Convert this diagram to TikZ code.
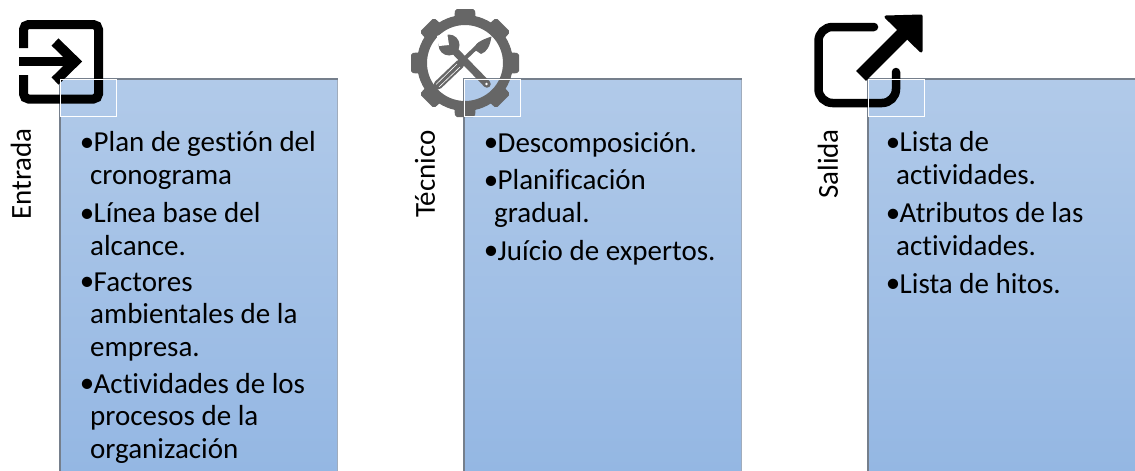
\documentclass[tikz,border=0pt]{standalone}
\usepackage{fontspec}
\setmainfont{Carlito}[Ligatures=NoCommon]
\usetikzlibrary{calc}
\definecolor{boxtop}{HTML}{B1CAE9}
\definecolor{boxbot}{HTML}{94B7E3}
\definecolor{boxedge}{HTML}{A0ACBC}
\definecolor{boxdark}{HTML}{757F8C}
\definecolor{gearcol}{HTML}{666666}
\tikzset{
  x=1pt,y=-1pt,
  panel/.style={draw=boxedge,line width=1pt,top color=boxtop,bottom color=boxbot,minimum height=392pt,anchor=north west,inner sep=0pt},
  paneledge/.style={draw=boxdark,line width=1.2pt},
  cornerbox/.style={draw=white,line width=0.8pt,minimum width=56pt,minimum height=37pt,anchor=north west,inner sep=0pt},
  sidelabel/.style={rotate=90,font=\fontsize{29}{32}\selectfont,inner sep=0pt,anchor=center},
  item/.style={font=\fontsize{29}{32.5}\selectfont,align=left,anchor=base west,inner sep=0pt},
  blackline/.style={draw=black,line width=9pt},
}
\newcommand{\bl}{\llap{\raisebox{0.5pt}{•}\kern-4pt}\kern3.5pt}
\begin{document}
\begin{tikzpicture}
\useasboundingbox (0,0) rectangle (1135,471);
% panels
\node[panel,minimum width=277pt] (p1) at (60,79) {};
\node[panel,minimum width=277pt] (p2) at (464,79) {};
\node[panel,minimum width=277pt] (p3) at (868,79) {};
\draw[paneledge] (p1.south west) -- (p1.north west) -- (p1.north east);
\draw[paneledge] (p2.south west) -- (p2.north west) -- (p2.north east);
\draw[paneledge] (p3.south west) -- (p3.north west) -- (p3.north east);
% icon 1
\draw[blackline,rounded corners=5pt] (23.5,48) -- (23.5,24.5) -- (98.5,24.5) -- (98.5,99) -- (23.5,99) -- (23.5,75);
\draw[draw=black,line width=9pt] (19,61.5) -- (76,61.5);
\draw[draw=black,line width=10pt,miter limit=10] (55,42) -- (75,61.5) -- (55,81);
% icon 2
\foreach \a in {0,45,...,315}{
  \fill[gearcol,rotate around={\a:(465,63)},rounded corners=2pt] (454,24) -- (455,9) -- (475,9) -- (476,24) -- cycle;
}
\draw[gearcol,line width=10pt] (465,63) circle[radius=43];
% screwdriver
\draw[gearcol,line width=4pt] (460,63) -- (480,44);
\draw[gearcol,line width=9pt,line cap=round] (438,85) -- (460,64);
\draw[white,line width=0.6pt] (436,84.5) -- (457,64) (439,87) -- (460,67);
\fill[gearcol] (475,50) .. controls (473,44) and (481,40) .. (491.5,36.5) .. controls (490,46) and (487,52) .. (481,54) -- cycle;
% wrench
\draw[gearcol,line width=7.5pt,line cap=round] (449,45) -- (487,84);
\fill[gearcol] (449,45) circle[radius=10.5];
\fill[white] (449,45) -- (439,46) -- (437,36) -- (447,32) -- cycle;
\fill[white] (486.5,84) circle[radius=1.3];
% icon 3
\draw[blackline,line width=8.5pt,rounded corners=14pt,line cap=round] (874,27) -- (818.5,27) -- (818.5,103) -- (896,103) -- (896,72);
\draw[draw=black,line width=14pt] (861,76) -- (904,33);
\fill[draw=black,fill=black,line width=3pt,line join=round] (886,17) -- (921,16) -- (921,51) -- cycle;
% corner squares
\node[cornerbox] (c1) at (60,79) {};
\node[cornerbox] (c2) at (464,79) {};
\node[cornerbox] (c3) at (868,79) {};
% side labels
\node[sidelabel] (l1) at (21,174) {Entrada};
\node[sidelabel] (l2) at (425,174) {Técnico};
\node[sidelabel] (l3) at (828,164) {Salida};
% text
\node[item] (a1) at (90,184) {\bl Plan de gestión del\\cronograma};
\node[item] (a2) at (90,255) {\bl Línea base del\\alcance.};
\node[item] (a3) at (90,356) {\bl Factores\\ambientales de la\\empresa.};
\node[item] (a4) at (90,458) {\bl Actividades de los\\procesos de la\\organización};
\node[item] (b1) at (494,152) {\bl Descomposición.};
\node[item] (b2) at (494,222) {\bl Planificación\\gradual.};
\node[item] (b3) at (494,260) {\bl Juício de expertos.};
\node[item] (s1) at (896,184) {\bl Lista de\\actividades.};
\node[item] (s2) at (896,255) {\bl Atributos de las\\actividades.};
\node[item] (s3) at (896,293) {\bl Lista de hitos.};
\end{tikzpicture}
\end{document}
